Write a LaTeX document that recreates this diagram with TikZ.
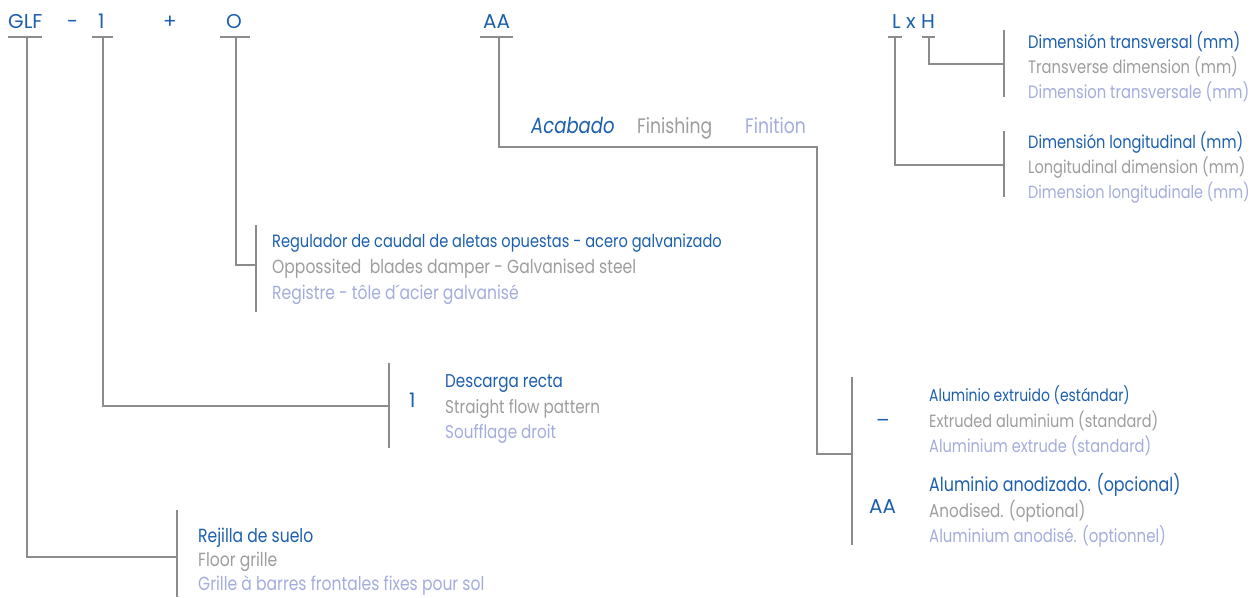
\documentclass[tikz,border=0pt]{standalone}
\usepackage{fontspec}
\newfontfamily\ff[FakeStretch=0.82]{Poppins}
\newfontfamily\fc{Poppins}
\definecolor{blu}{HTML}{1B5FAE}
\definecolor{gtx}{HTML}{9D9D9D}
\definecolor{lav}{HTML}{A3ACDC}
\definecolor{ln}{HTML}{8C8C8C}
\tikzset{
  bt/.style={anchor=base west, inner sep=0, text=blu, font=\ff\fontsize{#1}{#1}\selectfont},
  gt/.style={anchor=base west, inner sep=0, text=gtx, font=\ff\fontsize{#1}{#1}\selectfont},
  lt/.style={anchor=base west, inner sep=0, text=lav, font=\ff\fontsize{#1}{#1}\selectfont},
  code/.style={anchor=base west, inner sep=0, text=blu, font=\fc\fontsize{20}{20}\selectfont},
  wire/.style={draw=ln, line width=1.2pt},
}
\begin{document}
\begin{tikzpicture}[x=1pt,y=-1pt]
\useasboundingbox (0,0) rectangle (1257,597);
% top code labels
\node[code] (glf) at (8,28) {GLF};
\node[code] (dash) at (67,28) {-};
\node[code] (one) at (98,28) {1};
\node[code] (plus) at (163,28) {+};
\node[code] (oo) at (226,28) {O};
\node[code] (aa) at (483,28) {AA};
\node[code] (lxh) at (892,28) {L x H};
% underlines
\draw[wire] (8,37) -- (42,37);
\draw[wire] (92,37) -- (113,37);
\draw[wire] (220,37) -- (250,37);
\draw[wire] (480,37) -- (513,37);
\draw[wire] (888,37) -- (902,37);
\draw[wire] (922,37) -- (935,37);
% GLF connector
\coordinate (g0) at (27,37);
\coordinate (g1) at (27,557);
\coordinate (g2) at (177,557);
\draw[wire] (g0) -- (g1) -- (g2);
\draw[wire] (177,510) -- (177,597);
\node[bt=19] (rej1) at (198,542) {Rejilla de suelo};
\node[gt=19] (rej2) at (198,566) {Floor grille};
\node[lt=19] (rej3) at (198,590) {Grille à barres frontales fixes pour sol};
% 1 connector
\coordinate (o0) at (103,37);
\coordinate (o1) at (103,406);
\coordinate (o2) at (389,406);
\draw[wire] (o0) -- (o1) -- (o2);
\draw[wire] (389,363) -- (389,448);
\node[code] (onecode) at (409,407) {1};
\node[bt=18.5] (des1) at (445,387) {Descarga recta};
\node[gt=18.5] (des2) at (445,413) {Straight flow pattern};
\node[lt=18.5] (des3) at (445,438) {Soufflage droit};
% O connector
\coordinate (r0) at (236,37);
\coordinate (r1) at (236,265);
\coordinate (r2) at (256,265);
\draw[wire] (r0) -- (r1) -- (r2);
\draw[wire] (256,225) -- (256,312);
\node[bt=17.8] (reg1) at (272,247) {Regulador de caudal de aletas opuestas - acero galvanizado};
\node[gt=19] (reg2) at (272,273) {Oppossited\ \ blades damper - Galvanised steel};
\node[lt=19] (reg3) at (272,299) {Registre - tôle d´acier galvanisé};
% AA connector
\coordinate (a0) at (499,37);
\coordinate (a1) at (499,147);
\coordinate (a2) at (817,147);
\coordinate (a3) at (817,454);
\coordinate (a4) at (852,454);
\draw[wire] (a0) -- (a1) -- (a2) -- (a3) -- (a4);
\draw[wire] (852,377) -- (852,545);
\node[bt=22, font=\ff\itshape\fontsize{22}{22}\selectfont] (acab) at (531,133) {Acabado};
\node[gt=21] (fini) at (637,133) {Finishing};
\node[lt=21] (fint) at (745,133) {Finition};
\node[code] (dashcode) at (876,427) {–};
\node[bt=17] (al1) at (929,401) {Aluminio extruido (estándar)};
\node[gt=17.7] (al2) at (929,427) {Extruded aluminium (standard)};
\node[lt=17.8] (al3) at (929,452) {Aluminium extrude (standard)};
\node[code] (aacode) at (869,513) {AA};
\node[bt=19.4] (an1) at (929,491) {Aluminio anodizado. (opcional)};
\node[gt=18.5] (an2) at (929,517) {Anodised. (optional)};
\node[lt=18.2] (an3) at (929,542) {Aluminium anodisé. (optionnel)};
% L x H connectors
\coordinate (h0) at (929,37);
\coordinate (h1) at (929,64);
\coordinate (h2) at (1004,64);
\draw[wire] (h0) -- (h1) -- (h2);
\draw[wire] (1004,30) -- (1004,97);
\coordinate (l0) at (895,37);
\coordinate (l1) at (895,165);
\coordinate (l2) at (1004,165);
\draw[wire] (l0) -- (l1) -- (l2);
\draw[wire] (1004,131) -- (1004,197);
\node[bt=18] (tr1) at (1028,48) {Dimensión transversal (mm)};
\node[gt=18] (tr2) at (1028,73) {Transverse dimension (mm)};
\node[lt=18] (tr3) at (1028,98) {Dimension transversale (mm)};
\node[bt=17.8] (lo1) at (1028,148) {Dimensión longitudinal (mm)};
\node[gt=17.8] (lo2) at (1028,173) {Longitudinal dimension (mm)};
\node[lt=17.6] (lo3) at (1028,198) {Dimension longitudinale (mm)};
\end{tikzpicture}
\end{document}
